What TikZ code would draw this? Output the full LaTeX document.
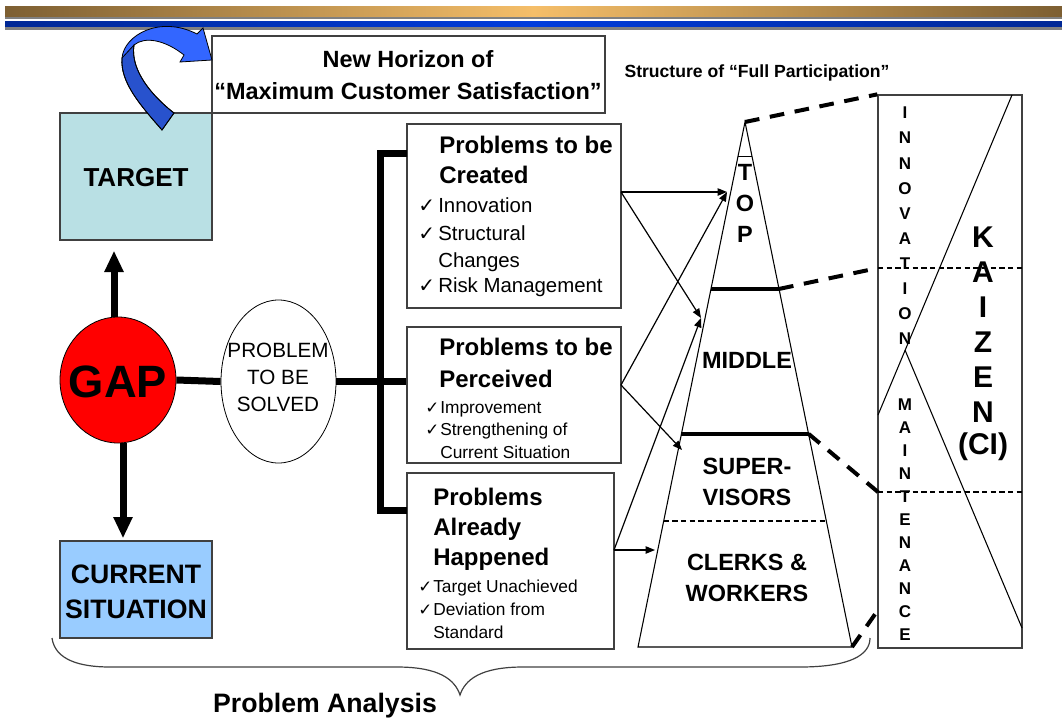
\documentclass[tikz,border=0pt]{standalone}
\usepackage{fontspec}
\setmainfont{Liberation Sans}
\newfontfamily\symfont{DejaVu Sans}
\usetikzlibrary{arrows.meta,fit,calc,shapes.geometric}

\definecolor{targetcol}{RGB}{185,224,228}
\definecolor{currcol}{RGB}{153,204,255}
\definecolor{gapred}{RGB}{255,0,0}
\definecolor{boxline}{RGB}{64,64,64}
\definecolor{barline}{RGB}{128,128,128}
\definecolor{goldedge}{RGB}{125,95,50}
\definecolor{goldmid}{RGB}{245,190,105}
\definecolor{blueedge}{RGB}{0,40,150}
\definecolor{bluemid}{RGB}{0,60,220}
\definecolor{curllight}{RGB}{51,102,255}
\definecolor{curldark}{RGB}{40,82,205}

\tikzset{
  framebox/.style={draw=boxline, line width=1pt, inner sep=0pt},
  thickbar/.style={line width=5.25pt},
  pyrline/.style={line width=0.8pt},
  levelbar/.style={line width=3pt},
  ptr/.style={line width=0.9pt, -{Triangle[length=7pt,width=5.5pt]}},
  bigarrow/.style={line width=5.25pt, -{Triangle[length=16pt,width=13.5pt]}},
  dashlink/.style={line width=3pt, dash pattern=on 11pt off 8pt},
  headtxt/.style={font=\bfseries\fontsize{18}{22}\selectfont, inner sep=0pt, anchor=base west},
  listbig/.style={font=\fontsize{15.3}{18}\selectfont, inner sep=0pt, anchor=base west},
  listsmall/.style={font=\fontsize{13}{16}\selectfont, inner sep=0pt, anchor=base west},
  tick/.style={font=\symfont\fontsize{12.5}{13}\selectfont, inner sep=0pt, anchor=base west},
  pyrtxt/.style={font=\bfseries\fontsize{17.6}{23.25}\selectfont, inner sep=0pt, align=center},
  lettertxt/.style={font=\bfseries\fontsize{12.75}{13}\selectfont, inner sep=0pt},
  kaizentxt/.style={font=\bfseries\fontsize{22.5}{24}\selectfont, inner sep=0pt}
}

\begin{document}
\begin{tikzpicture}[x=0.75pt,y=0.75pt,yscale=-1,xscale=1]
\useasboundingbox (0,0) rectangle (1062,721);

%Header bars
\shade[left color=goldedge,right color=goldedge,middle color=goldmid] (5,6) rectangle (1062,17);
\fill[barline] (5,17) rectangle (1062,19);
\shade[left color=blueedge,right color=blueedge,middle color=bluemid] (5,21) rectangle (1062,27);
\fill[barline] (5,27) rectangle (1062,30);

%Target, horizon and current situation
\node[framebox, fill=targetcol, fit={(60,113) (212,240)}] (target) {};
\node[font=\bfseries\fontsize{19.5}{24}\selectfont, inner sep=0pt] (targettxt) at (136,178) {TARGET};
\node[framebox, fill=white, fit={(212,36) (605,113)}] (horizon) {};
\node[align=center, font=\bfseries\fontsize{17.6}{24}\selectfont, inner sep=0pt] (horizontxt) at (408,75) {New Horizon of\\“Maximum Customer Satisfaction”};
\node[framebox, fill=currcol, fit={(60,541) (212,638)}] (current) {};
\node[align=center, font=\bfseries\fontsize{20}{26}\selectfont, inner sep=0pt] (currenttxt) at (136,592) {CURRENT\\SITUATION};

%Curled arrow
\fill[curllight] (162,130) .. controls (140,105) and (120,82) .. (122,58) .. controls (124,35) and (160,15) .. (197,34) -- (203,28) -- (212,60) -- (180,62) -- (184,55) .. controls (165,40) and (145,36) .. (134,45) .. controls (130,70) and (152,96) .. (174,113) -- cycle;
\draw[fill=curldark, line width=0.6pt] (122,58) .. controls (120,82) and (140,105) .. (162,130) -- (174,113) .. controls (152,96) and (130,70) .. (134,45) -- cycle;
\draw[line width=0.6pt] (162,130) .. controls (140,105) and (120,82) .. (122,58) .. controls (124,35) and (160,15) .. (197,34) -- (203,28) -- (212,60) -- (180,62) -- (184,55) .. controls (165,40) and (145,36) .. (134,45) .. controls (130,70) and (152,96) .. (174,113) -- cycle;

%GAP
\node[ellipse, draw, line width=0.6pt, fill=gapred, minimum width=116*0.75pt, minimum height=126*0.75pt, inner sep=0pt] (gap) at (118,380) {};
\node[font=\bfseries\fontsize{34}{34}\selectfont, inner sep=0pt] (gaptxt) at (118,382) {GAP};
\coordinate (gaphead) at ([xshift=-3pt]gap.north);
\coordinate (gapfoot) at ([xshift=3.75pt]gap.south);
\draw[bigarrow, shorten >=7.5pt] (gaphead) -- (gaphead |- target.south);
\draw[bigarrow, shorten >=1.5pt] (gapfoot) -- (gapfoot |- current.north);

%Problem to be solved
\node[ellipse, draw, line width=0.6pt, minimum width=115*0.75pt, minimum height=163*0.75pt, inner sep=0pt] (solve) at (278.5,381.5) {};
\node[align=center, font=\fontsize{15.5}{20.25}\selectfont, inner sep=0pt] (solvetxt) at (278,377) {PROBLEM\\TO BE\\SOLVED};

%Problem boxes
\node[framebox, fill=white, fit={(407,124) (621,308)}] (b1) {};
\node[framebox, fill=white, fit={(407,327) (621,463)}] (b2) {};
\node[framebox, fill=white, fit={(407,473) (614,649)}] (b3) {};

%Trunk lines
\coordinate (trunk) at (380,381.5);
\coordinate (b1in) at (407,153);
\coordinate (b3in) at (407,510);
\draw[thickbar] (gap.east) -- (solve.west);
\draw[thickbar] (solve.east) -- (b2.west |- solve.east);
\draw[thickbar] (b1in) -| (trunk) |- (b3in);

%Box texts
\node[headtxt] (b1h1) at (439,153) {Problems to be};
\node[headtxt] (b1h2) at (439,183) {Created};
\foreach \n/\yy/\t in {1/212/Innovation,2/240/Structural,3/267/Changes,4/292/Risk Management}
  \node[listbig] (b1l\n) at (438,\yy) {\t};
\foreach \yy in {212,240,292}
  \node[tick, font=\symfont\fontsize{15}{15}\selectfont] (b1c\yy) at (418,\yy) {✓};

\node[headtxt] (b2h1) at (439,355) {Problems to be};
\node[headtxt] (b2h2) at (439,387) {Perceived};
\foreach \n/\yy/\t in {1/413/Improvement,2/435/Strengthening of,3/458/Current Situation}
  \node[listsmall] (b2l\n) at (440,\yy) {\t};
\foreach \yy in {413,435}
  \node[tick] (b2c\yy) at (425,\yy) {✓};

\node[headtxt] (b3h1) at (433,505) {Problems};
\node[headtxt] (b3h2) at (433,535) {Already};
\node[headtxt] (b3h3) at (433,565) {Happened};
\foreach \n/\yy/\t in {1/592/Target Unachieved,2/615/Deviation from,3/638/Standard}
  \node[listsmall] (b3l\n) at (433,\yy) {\t};
\foreach \yy in {592,615}
  \node[tick] (b3c\yy) at (418,\yy) {✓};

%Pyramid
\coordinate (apex) at (745,122);
\coordinate (pl) at (638,647);
\coordinate (pr) at (852,647);
\draw[pyrline] (apex) -- (pl) -- (pr) -- cycle;
\draw[pyrline] ($(apex)!0.066!(pl)$) -- ($(apex)!0.066!(pr)$);
\draw[levelbar] ($(apex)!0.318!(pl)$) coordinate (m1l) -- ($(apex)!0.318!(pr)$) coordinate (m1r);
\draw[levelbar] ($(apex)!0.594!(pl)$) coordinate (m2l) -- ($(apex)!0.594!(pr)$) coordinate (m2r);
\draw[pyrline, dash pattern=on 4pt off 2.5pt] ($(apex)!0.76!(pl)$) -- ($(apex)!0.76!(pr)$);

\node[pyrtxt] (toptxt) at (745,203) {T\\O\\P};
\node[pyrtxt] (midtxt) at (747,360) {MIDDLE};
\node[pyrtxt] (suptxt) at (747,482) {SUPER-\\VISORS};
\node[pyrtxt] (clktxt) at (747,578) {CLERKS \&\\WORKERS};
\node[font=\bfseries\fontsize{13.2}{14}\selectfont, inner sep=0pt] (structtxt) at (757,73) {Structure of “Full Participation”};

%Pointers
\coordinate (b1out) at (621,192);
\coordinate (b2out) at (621,385);
\coordinate (b3out) at (614,550);
\coordinate (toppt) at (727,192);
\coordinate (midpt) at (701,318);
\coordinate (suppt) at (682,450);
\coordinate (clkpt) at (655,550);
\draw[ptr] (b1out) -- (toppt);
\draw[ptr] (b1out) -- (midpt);
\draw[ptr] (b2out) -- (toppt);
\draw[ptr] (b2out) -- (suppt);
\draw[ptr] (b3out) -- (midpt);
\draw[ptr] (b3out) -- (clkpt);

%Kaizen box
\node[framebox, fit={(878,95) (1022,648)}] (kz) {};
\coordinate (kzd1) at (878,268);
\coordinate (kzd2) at (878,492);
\coordinate (kzlow) at (878,610);
\draw[pyrline, dash pattern=on 4pt off 2.5pt] (kzd1) -- (kzd1 -| kz.east);
\draw[pyrline, dash pattern=on 4pt off 2.5pt] (kzd2) -- (kzd2 -| kz.east);
\coordinate (inntop) at (1012,95);
\coordinate (innfoot) at (878,415);
\coordinate (fork) at (905,350);
\coordinate (kzfoot) at (1022,628);
\draw[pyrline] (innfoot) -- (inntop);
\draw[pyrline] (fork) -- (kzfoot);

%Dashed links
\draw[dashlink] (apex) -- (kz.north west);
\draw[dashlink] (m1r) -- (kzd1);
\draw[dashlink] (m2r) -- (kzd2);
\draw[dashlink] (pr) -- (kzlow);

%Vertical words
\foreach \l [count=\k from 0] in {I,N,N,O,V,A,T,I,O,N}
  \node[lettertxt] (inn\k) at (905,113+25.1*\k) {\l};
\foreach \l [count=\k from 0] in {M,A,I,N,T,E,N,A,N,C,E}
  \node[lettertxt] (mnt\k) at (905,405+23*\k) {\l};
\foreach \l [count=\k from 0] in {K,A,I,Z,E,N,(CI)}
  \node[kaizentxt] (kzn\k) at (983,237+35*\k) {\l};

%Brace
\draw[boxline, line width=0.9pt] (52,638) .. controls (55,660) and (80,667) .. (110,667) -- (397,667) .. controls (440,667) and (455,680) .. (460,695) .. controls (465,680) and (480,667) .. (523,667) -- (800,667) .. controls (850,667) and (870,655) .. (870,638);
\node[font=\bfseries\fontsize{20}{24}\selectfont, inner sep=0pt, anchor=base] (analysis) at (325,712) {Problem Analysis};

\end{tikzpicture}
\end{document}
